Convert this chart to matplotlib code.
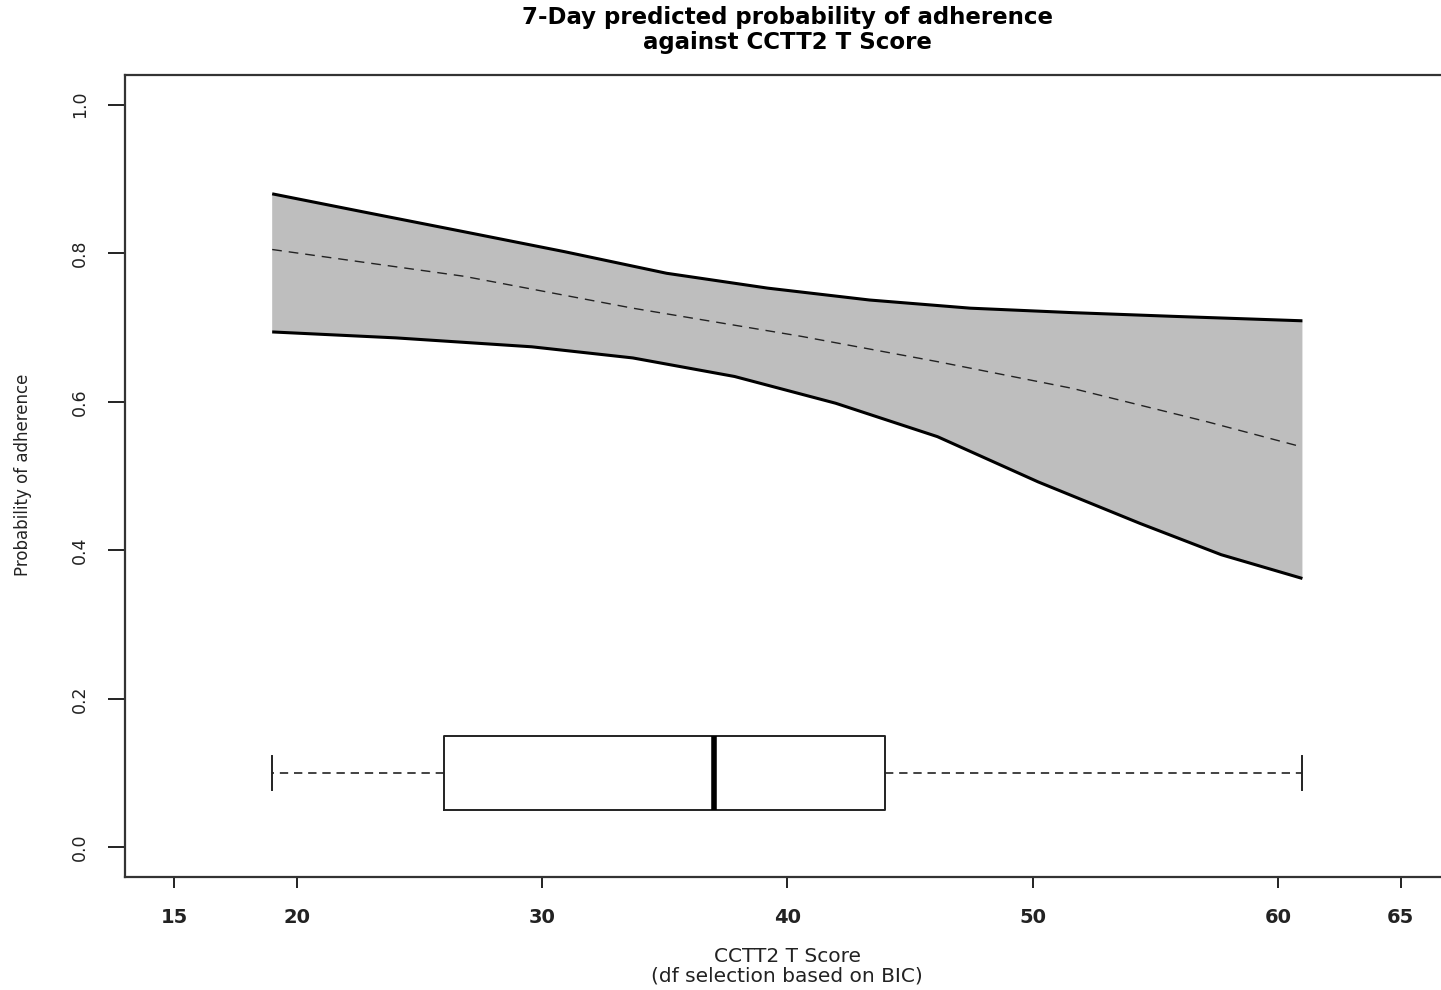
import matplotlib
matplotlib.use("Agg")
import matplotlib.pyplot as plt

# ---- data ----
x_upper = [19, 22.66, 26.81, 30.93, 35.08, 39.20, 43.35, 47.46, 51.62, 55.73, 61]
upper   = [0.880, 0.856, 0.829, 0.802, 0.773, 0.753, 0.737, 0.726, 0.720, 0.715, 0.709]

x_lower = [19, 24.04, 29.58, 33.70, 37.85, 41.97, 46.12, 50.23, 54.39, 57.69, 61]
lower   = [0.694, 0.686, 0.674, 0.659, 0.634, 0.598, 0.553, 0.492, 0.436, 0.394, 0.362]

x_fit = [19, 26.81, 33.70, 40.58, 46.12, 51.62, 57.12, 61]
fit   = [0.805, 0.769, 0.726, 0.688, 0.654, 0.618, 0.573, 0.539]

box_stats = dict(whislo=19, q1=26, med=37, q3=44, whishi=61)
box_pos = 0.1

x_ticks = [15, 20, 30, 40, 50, 60, 65]
y_ticks = [0.0, 0.2, 0.4, 0.6, 0.8, 1.0]
y_tick_labels = ["0.0", "0.2", "0.4", "0.6", "0.8", "1.0"]

title = "7-Day predicted probability of adherence\nagainst CCTT2 T Score"
xlabel = "CCTT2 T Score\n(df selection based on BIC)"
ylabel = "Probability of adherence"

plt.rcParams['font.family'] = ['DejaVu Sans']

W, H = 1441, 990
fig = plt.figure(figsize=(W / 100, H / 100), dpi=100)
left, right, top, bottom = 125, 1449.6, 75, 877
ax = fig.add_axes([left / W, 1 - bottom / H, (right - left) / W, (bottom - top) / H])

ax.set_xlim(13, 67)
ax.set_ylim(-0.04, 1.04)

band_x = list(x_upper) + list(x_lower[::-1])
band_y = list(upper) + list(lower[::-1])
ax.fill(band_x, band_y, color="#bebebe", linewidth=0, zorder=1)
ax.plot(x_upper, upper, color="black", lw=2.2, zorder=3, solid_capstyle="butt")
ax.plot(x_lower, lower, color="black", lw=2.2, zorder=3, solid_capstyle="butt")
ax.plot(x_fit, fit, color="#222222", lw=1.0, linestyle=(0, (7, 5)), zorder=3)

stats = dict(box_stats)
ax.bxp([stats], positions=[box_pos], widths=0.1, vert=False, showfliers=False,
       capwidths=0.046,
       boxprops=dict(color="#222222", lw=1.4),
       whiskerprops=dict(color="#222222", lw=1.2, linestyle=(0, (5, 3.5))),
       capprops=dict(color="#222222", lw=1.4),
       medianprops=dict(color="black", lw=4),
       manage_ticks=False)

for s in ax.spines.values():
    s.set_linewidth(1.6)
    s.set_color("#333333")

ax.set_xticks(x_ticks)
ax.set_xticklabels([str(t) for t in x_ticks], fontweight="bold", fontsize=14)
ax.set_yticks(y_ticks)
ax.set_yticklabels(y_tick_labels, rotation=90, va="center", fontsize=12.5)
ax.tick_params(axis="x", length=8, width=1.4, pad=14, colors="#222222")
ax.tick_params(axis="y", length=12, width=1.4, pad=14, colors="#222222")

fig.text((left + right) / 2 / W, 1 - 30 / H, title, ha="center", va="center",
         fontsize=16.5, fontweight="bold", linespacing=1.1)
fig.text((left + right) / 2 / W, 1 - 966 / H, xlabel, ha="center", va="center",
         fontsize=14.5, linespacing=1.02, color="#222222")
fig.text(23 / W, 1 - 475 / H, ylabel, ha="center", va="center", rotation=90,
         fontsize=12, color="#222222")

fig.savefig("out.png", dpi=100)
